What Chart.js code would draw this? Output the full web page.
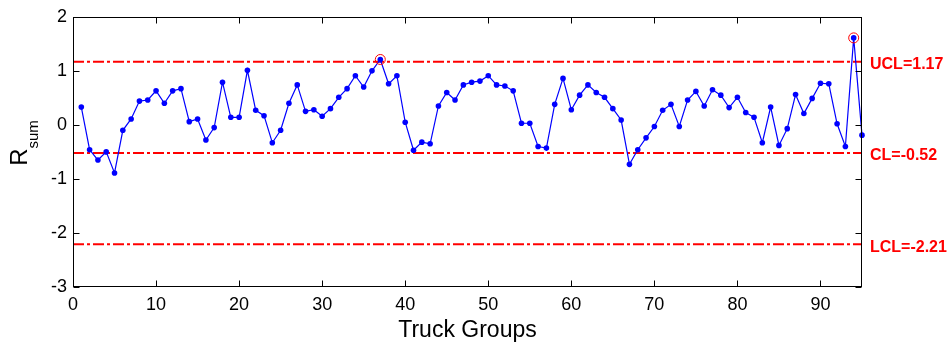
<!DOCTYPE html>
<html>
<head>
<meta charset="utf-8">
<script src="https://cdn.jsdelivr.net/npm/chart.js@4/dist/chart.umd.min.js"></script>
<style>
  body { margin: 0; background: #fff; }
  canvas { display: block; }
</style>
</head>
<body>
<canvas id="chart" width="951" height="346"></canvas>
<script>
// R_sum per truck group (group number = position + 1)
const rsum = [
  0.33, -0.46, -0.65, -0.50, -0.89, -0.10, 0.11, 0.44, 0.46, 0.63,
  0.40, 0.63, 0.67, 0.06, 0.11, -0.28, -0.05, 0.79, 0.14, 0.14,
  1.01, 0.27, 0.17, -0.33, -0.10, 0.40, 0.74, 0.25, 0.28, 0.16,
  0.30, 0.51, 0.67, 0.91, 0.70, 1.00, 1.21, 0.76, 0.91, 0.05,
  -0.47, -0.32, -0.35, 0.35, 0.60, 0.46, 0.74, 0.79, 0.81, 0.91,
  0.74, 0.72, 0.63, 0.03, 0.03, -0.40, -0.43, 0.38, 0.86, 0.28,
  0.55, 0.74, 0.60, 0.51, 0.30, 0.09, -0.73, -0.46, -0.24, -0.03,
  0.27, 0.38, -0.03, 0.46, 0.62, 0.35, 0.65, 0.55, 0.32, 0.51,
  0.23, 0.14, -0.33, 0.33, -0.38, -0.07, 0.56, 0.21, 0.49, 0.77,
  0.76, 0.02, -0.40, 1.61, -0.19
];
const limitNames = ['UCL', 'CL', 'LCL'];
const limitValues = [1.17, -0.52, -2.21];
const xTicks = [0, 10, 20, 30, 40, 50, 60, 70, 80, 90];
const yTicks = [-3, -2, -1, 0, 1, 2];
const xRange = [0, 95];
const yRange = [-3, 2];

const FONT = '"Liberation Sans", Arial, Helvetica, sans-serif';
const RED = '#ff0000';
const BLUE = '#0000ff';

const points = rsum.map((v, i) => ({ x: i + 1, y: v }));
const ucl = limitValues[0], lcl = limitValues[2];
const outOfControl = points.filter(p => p.y > ucl || p.y < lcl);

const limitSets = limitValues.map((v, i) => ({
  label: limitNames[i],
  data: [{ x: xRange[0], y: v }, { x: xRange[1], y: v }],
  borderColor: RED,
  borderWidth: 2,
  borderDash: [11, 3, 3, 3],
  pointRadius: 0,
  order: 3
}));

// box, inward ticks, axis titles and limit labels
const decor = {
  id: 'decor',
  afterDraw(chart) {
    const ctx = chart.ctx;
    const a = chart.chartArea;
    const xs = chart.scales.x, ys = chart.scales.y;
    const L = Math.round(a.left) + 0.5, R = Math.round(a.right) - 0.5;
    const T = Math.round(a.top) + 0.5, B = Math.round(a.bottom) - 0.5;
    ctx.save();
    ctx.strokeStyle = '#000';
    ctx.lineWidth = 1;
    ctx.strokeRect(L, T, R - L, B - T);
    const tl = 6;
    ctx.beginPath();
    xTicks.forEach(v => {
      const px = Math.round(xs.getPixelForValue(v)) + 0.5;
      ctx.moveTo(px, B); ctx.lineTo(px, B - tl);
      ctx.moveTo(px, T); ctx.lineTo(px, T + tl);
    });
    yTicks.forEach(v => {
      const py = Math.round(ys.getPixelForValue(v)) + 0.5;
      ctx.moveTo(L, py); ctx.lineTo(L + tl, py);
      ctx.moveTo(R, py); ctx.lineTo(R - tl, py);
    });
    ctx.stroke();

    // control limit labels
    ctx.fillStyle = RED;
    ctx.font = 'bold 16px ' + FONT;
    ctx.textAlign = 'left';
    ctx.textBaseline = 'middle';
    limitValues.forEach((v, i) => {
      ctx.fillText(limitNames[i] + '=' + v.toFixed(2), a.right + 8, ys.getPixelForValue(v) + 3);
    });

    // x title
    ctx.fillStyle = '#000';
    ctx.font = '23px ' + FONT;
    ctx.textAlign = 'center';
    ctx.textBaseline = 'alphabetic';
    ctx.fillText('Truck Groups', (a.left + a.right) / 2, 337);

    // y title with subscript
    ctx.translate(27, 0);
    ctx.rotate(-Math.PI / 2);
    ctx.textAlign = 'left';
    ctx.font = '24px ' + FONT;
    const wR = ctx.measureText('R').width;
    ctx.font = '15px ' + FONT;
    const wS = ctx.measureText('sum').width;
    const start = -(143 + (wR + wS) / 2);
    ctx.font = '24px ' + FONT;
    ctx.fillText('R', start, 0);
    ctx.font = '15px ' + FONT;
    ctx.fillText('sum', start + wR, 11);
    ctx.restore();
  }
};

new Chart(document.getElementById('chart').getContext('2d'), {
  type: 'line',
  data: {
    datasets: [
      {
        label: 'R_sum',
        data: points,
        borderColor: BLUE,
        backgroundColor: BLUE,
        borderWidth: 1.2,
        pointRadius: 2.8,
        pointBorderWidth: 0,
        pointBackgroundColor: BLUE,
        order: 2
      },
      {
        label: 'out of control',
        data: outOfControl,
        showLine: false,
        pointRadius: 5,
        pointBorderWidth: 1,
        pointBorderColor: RED,
        pointBackgroundColor: 'rgba(0,0,0,0)',
        order: 1
      },
      ...limitSets
    ]
  },
  options: {
    responsive: false,
    animation: false,
    devicePixelRatio: 1,
    clip: false,
    layout: { padding: { top: 15, right: 89, bottom: 0, left: 0 } },
    plugins: { legend: { display: false }, tooltip: { enabled: false } },
    scales: {
      x: {
        type: 'linear',
        min: xRange[0], max: xRange[1],
        afterFit(s) { s.height = 59; },
        afterBuildTicks(s) { s.ticks = xTicks.map(v => ({ value: v })); },
        grid: { display: false, drawTicks: false },
        border: { display: false },
        ticks: { color: '#000', font: { family: FONT, size: 18 }, padding: 7, maxRotation: 0 }
      },
      y: {
        type: 'linear',
        min: yRange[0], max: yRange[1],
        afterFit(s) { s.width = 73; },
        afterBuildTicks(s) { s.ticks = yTicks.map(v => ({ value: v })); },
        grid: { display: false, drawTicks: false },
        border: { display: false },
        ticks: { color: '#000', font: { family: FONT, size: 18 }, padding: 6 }
      }
    }
  },
  plugins: [decor]
});
</script>
</body>
</html>
